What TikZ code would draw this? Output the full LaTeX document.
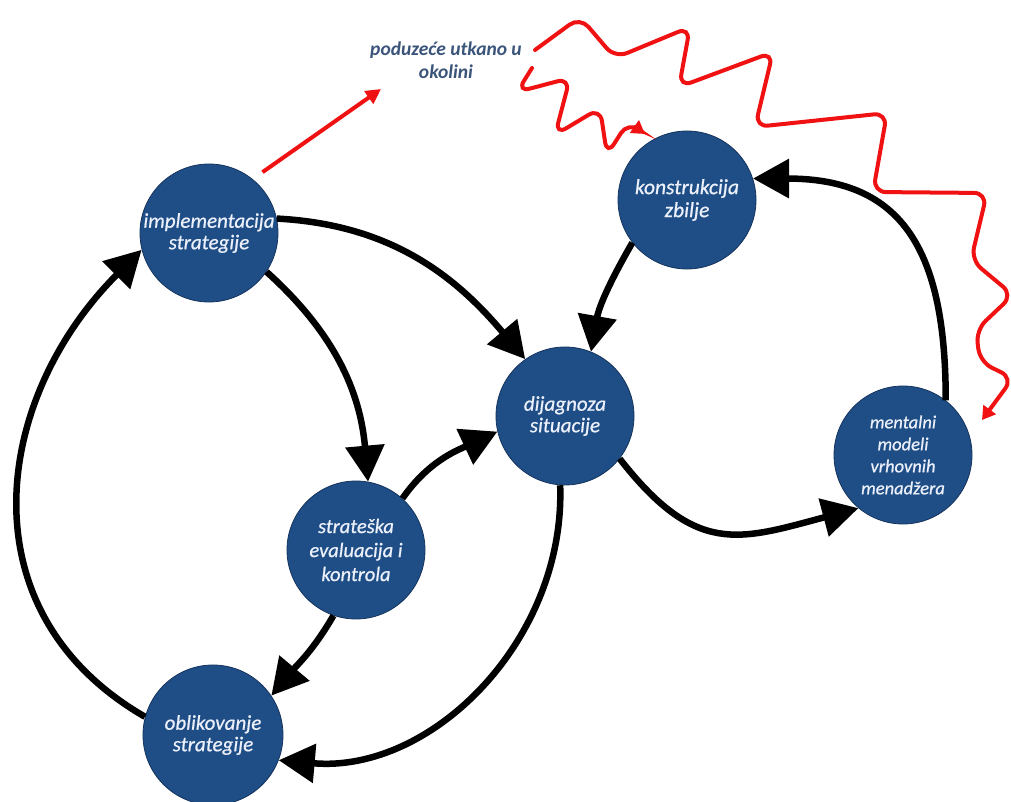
\documentclass[tikz,border=0pt]{standalone}
\usepackage{fontspec}
\setmainfont{Carlito}
\newfontfamily\stagefont{Carlito}[FakeBold=0.7]
\usetikzlibrary{arrows.meta}
\definecolor{circfill}{RGB}{31,78,135}
\definecolor{circedge}{RGB}{20,50,92}
\definecolor{txtlight}{RGB}{236,240,250}
\definecolor{labelblue}{RGB}{58,84,122}
\definecolor{wavered}{RGB}{240,18,18}
\begin{document}
\begin{tikzpicture}[x=1pt,y=1pt,
  stage/.style={circle, fill=circfill, draw=circedge, line width=0.8pt, inner sep=0pt,
    minimum size=138pt, align=center, text=txtlight,
    font=\stagefont\fontsize{21}{21.5}\selectfont\itshape},
  smallstage/.style={stage, font=\stagefont\fontsize{18.5}{22}\selectfont\itshape},
  envlabel/.style={align=center, text=labelblue, font=\fontsize{19.5}{23}\selectfont\bfseries\itshape},
  flow/.style={line width=6.5pt, -{Triangle[length=36pt,width=38pt]}},
  wavy/.style={draw=wavered, line width=4pt, rounded corners=13pt, line cap=round,
    -{Triangle[length=13pt,width=15pt]}},
  redarrow/.style={draw=wavered, line width=4pt, -{Triangle[length=15pt,width=15pt]}}
]
\useasboundingbox (0,0) rectangle (1011,-802);

% stages
\node[stage] (impl) at (209,-233) {implementacija\\strategije};
\node[stage, font=\stagefont\fontsize{21.5}{23}\selectfont\itshape] (konst) at (687,-200) {konstrukcija\\zbilje};
\node[stage] (dijag) at (565,-416) {dijagnoza\\situacije};
\node[smallstage] (ment) at (903,-455) {mentalni\\modeli\\vrhovnih\\menadžera};
\node[stage, font=\stagefont\fontsize{20.5}{24}\selectfont\itshape] (strat) at (356,-550) {strateška\\evaluacija i\\kontrola};
\node[stage, minimum size=140pt] (oblik) at (213,-735) {oblikovanje\\strategije};

% environment label
\node[envlabel] (env) at (446,-60) {poduzeće utkano u\\okolini};
\coordinate (envpt) at (381,-89);

% black flows
\draw[flow] (impl.12) to[out=-3,in=130] (dijag.125);
\draw[flow] (impl.-34) to[out=-42,in=95] (strat.80);
\draw[flow] (strat.48) to[out=55,in=205] (dijag.193);
\draw[flow] (strat.251) to[out=240,in=50] (oblik.34);
\draw[flow] (dijag.266) to[out=-88,in=-5] (oblik.-21);
\draw[flow] (oblik.165) to[out=150,in=225,looseness=1.15] (impl.194);
\draw[flow] (konst.218) to[out=240,in=80] (dijag.68);
\draw[flow] (dijag.-38) to[out=-52,in=195,looseness=1.3] (ment.230);
\draw[flow] (ment.52) to[out=90,in=0,looseness=1.3] (konst.18);

% red arrow towards environment
\draw[redarrow, shorten <=12pt] (impl.51) -- (envpt);

% red waves
\coordinate (waveAstart) at (535,-50);
\coordinate (waveAend) at (982,-420);
\draw[wavy] (waveAstart) -- (580,-17) -- (615,-58) -- (690,-27) -- (679,-87)
  -- (773,-52) -- (755,-127) -- (887,-113) -- (873,-192) -- (987,-193)
  -- (971,-260) -- (1013,-295) -- (976,-330) -- (980,-362) -- (1013,-378) -- (waveAend);

\coordinate (waveBstart) at (532,-68);
\coordinate (waveBend) at (645,-134);
\draw[wavy] (waveBstart) -- (517,-92) -- (570,-78) -- (555,-135) -- (600,-108)
  -- (607,-155) -- (628,-122) -- (waveBend);
\end{tikzpicture}
\end{document}
